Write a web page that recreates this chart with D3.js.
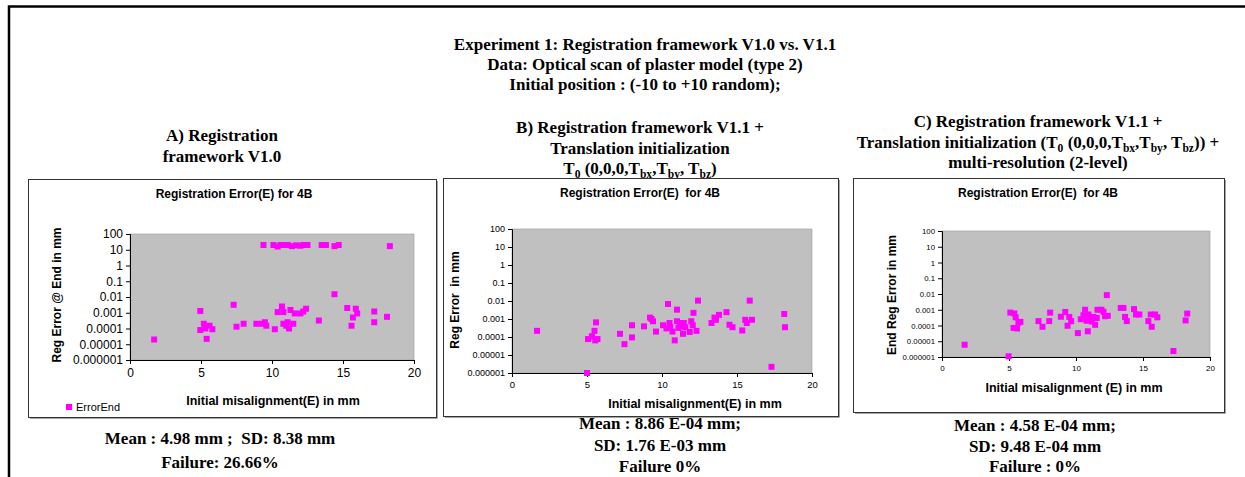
<!DOCTYPE html>
<html>
<head>
<meta charset="utf-8">
<script src="https://cdn.jsdelivr.net/npm/d3@7"></script>
<style>
    body { margin: 0; background: #fff; }
    text { white-space: pre; }
    .serif { font-family: "Liberation Serif", "Times New Roman", serif; font-weight: bold; }
    .sans { font-family: "Liberation Sans", Arial, sans-serif; }
</style>
</head>
<body>
<div id="chart"></div>
<script>
// Panel A: framework V1.0 (initial misalignment in mm, end error in mm)
const misalignA = [1.7, 4.95, 4.95, 5.2, 5.3, 5.4, 5.6, 5.8, 7.3, 7.5, 8.0, 8.9, 9.3, 9.5, 9.6,
    10.2, 10.4, 10.7, 10.8, 10.8, 11.0, 11.1, 11.2, 11.3, 11.5, 11.6, 12.0, 12.2, 12.4, 13.3,
    14.4, 15.3, 15.6, 15.7, 15.9, 16.0, 17.2, 17.2, 18.1,
    9.4, 10.1, 10.4, 10.6, 10.9, 11.1, 11.4, 12.0, 12.2, 12.5, 13.5, 13.8, 14.4, 14.7, 18.3, 11.7];
const errorA = [2e-5, 1.3e-3, 8e-5, 2e-4, 1e-4, 2.2e-5, 1.5e-4, 9e-5, 3.2e-3, 1.3e-4, 2e-4, 2e-4, 2e-4, 2.5e-4, 1.5e-4,
    9e-5, 1.1e-3, 2.5e-3, 1.1e-3, 2e-4, 1.5e-4, 2.5e-4, 1e-4, 1.5e-3, 2e-4, 9e-4, 9e-4, 1.2e-3, 1.8e-3, 3.2e-4,
    1.5e-2, 2e-3, 1.5e-4, 5e-4, 1.8e-3, 9e-4, 1.2e-3, 2.5e-4, 5.5e-4,
    20, 20, 16, 20, 20, 20, 17, 18, 20, 20, 20, 20, 17, 20, 17, 19];

// Panel B: V1.1 + translation initialization
const misalignB = [1.67, 5.0, 5.07, 5.33, 5.5, 5.55, 5.6, 5.7, 7.2, 7.5, 8.0, 8.0, 8.8, 9.2, 9.3, 9.4, 9.6,
    10.07, 10.3, 10.4, 10.5, 10.55, 10.7, 10.85, 11.0, 11.0, 11.1, 11.2, 11.35, 11.4, 11.45, 11.55,
    11.85, 11.95, 12.05, 12.1, 12.3, 12.4, 13.3, 13.5, 13.6, 13.8, 14.3, 14.5, 14.7,
    15.35, 15.55, 15.65, 15.85, 16.0, 17.3, 18.15, 18.2];
const errorB = [2.2e-4, 1e-6, 7.7e-5, 1.1e-4, 2.2e-4, 6.5e-5, 6.5e-4, 7.7e-5, 1.5e-4, 4e-5, 9.5e-5, 4.5e-4, 3.9e-4, 1.2e-3, 1e-3, 7.5e-4, 2e-4,
    4.5e-4, 3e-4, 6.8e-3, 6e-4, 3.5e-4, 2e-4, 6.5e-5, 3.3e-3, 7.5e-4, 3.2e-4, 6e-4, 4e-4, 1.5e-4, 6e-4, 3.5e-4,
    1.9e-4, 7.5e-4, 4.5e-4, 2.2e-3, 2.2e-4, 1.05e-2, 6e-4, 1.2e-3, 9e-4, 1.7e-3, 2.4e-3, 4.8e-4, 3.5e-4,
    2.3e-4, 9e-4, 6e-4, 1.05e-2, 9e-4, 2.2e-6, 1.9e-3, 3.5e-4];

// Panel C: V1.1 + translation initialization + multi-resolution
const misalignC = [1.69, 4.97, 5.1, 5.34, 5.4, 5.5, 5.6, 5.7, 5.85, 7.2, 7.5, 8.0, 8.07, 8.87, 9.2, 9.37, 9.5, 9.64,
    10.14, 10.36, 10.56, 10.68, 10.8, 10.88, 10.93, 11.06, 11.18, 11.3, 11.43, 11.55, 11.6, 11.9, 12.05, 12.17,
    12.3, 12.37, 13.34, 13.54, 13.66, 13.79, 14.33, 14.48, 14.73, 15.4, 15.58, 15.65, 15.9, 16.07, 17.27, 18.18, 18.3];
const errorC = [6e-6, 1.1e-6, 6.6e-4, 7e-5, 5.8e-4, 3.3e-4, 6.5e-5, 1.5e-4, 1.7e-4, 1.9e-4, 8.3e-5, 1.9e-4, 6.6e-4, 3.6e-4, 7.2e-4, 9.6e-5, 3.5e-4, 1.9e-4,
    3.3e-5, 2.5e-4, 4.5e-4, 1e-3, 2e-4, 4.3e-5, 5e-4, 3e-4, 1.8e-4, 3.5e-4, 1.1e-4, 3e-4, 1e-3, 1e-3, 7.4e-4, 3.9e-4,
    8.5e-3, 4.1e-4, 1.3e-3, 1.3e-3, 3.5e-4, 1.9e-4, 1.1e-3, 5e-4, 5e-4, 1.9e-4, 5e-4, 8.3e-5, 5e-4, 3.3e-4, 2.4e-6, 2.1e-4, 5.7e-4];

const yTicks = [1e-6, 1e-5, 1e-4, 1e-3, 1e-2, 1e-1, 1, 10, 100];
const yTickLabels = ["0.000001", "0.00001", "0.0001", "0.001", "0.01", "0.1", "1", "10", "100"];
const xTicks = [0, 5, 10, 15, 20];

const mainTitle = ["Experiment 1: Registration framework V1.0 vs. V1.1",
    "Data: Optical scan of plaster model (type 2)",
    "Initial position : (-10 to +10 random);"];
const statsA = ["Mean : 4.98 mm ;  SD: 8.38 mm", "Failure: 26.66%"];
const statsB = ["Mean : 8.86 E-04 mm;", "SD: 1.76 E-03 mm", "Failure 0%"];
const statsC = ["Mean : 4.58 E-04 mm;", "SD: 9.48 E-04 mm", "Failure : 0%"];

const width = 1245, height = 477;
const serifSize = 17;
const svg = d3.select("#chart").append("svg")
    .attr("width", width).attr("height", height);

// outer frame (top and left only)
svg.append("path")
    .attr("d", `M9,477 V6.5 H1245`)
    .attr("fill", "none").attr("stroke", "#000").attr("stroke-width", 2.5);

// block of centred serif lines
function serifLines(lines, cx, y0, step, size = serifSize) {
    lines.forEach((t, i) => {
        svg.append("text").attr("class", "serif")
            .attr("x", cx).attr("y", y0 + i * step)
            .attr("text-anchor", "middle").attr("font-size", size)
            .text(t);
    });
}

// text line with subscripts: parts = [[text, isSub, dy], ...]
function serifRich(parts, cx, y, size = serifSize) {
    const t = svg.append("text").attr("class", "serif")
        .attr("x", cx).attr("y", y)
        .attr("text-anchor", "middle").attr("font-size", size);
    parts.forEach(p => {
        const s = t.append("tspan").text(p[0]);
        if (p[1]) s.attr("font-size", size * 0.68).attr("dy", 3.5);
        else s.attr("dy", p[2] || 0);
    });
}

serifLines(mainTitle, 645, 50, 20);

serifLines(["A) Registration", "framework V1.0"], 222, 141, 21);
serifLines(["B) Registration framework V1.1 +", "Translation initialization"], 640, 133, 21);
serifRich([["T"], ["0", 1], [" (0,0,0,T", 0, -3.5], ["bx", 1], [",T", 0, -3.5], ["by", 1], [", T", 0, -3.5], ["bz", 1], [")", 0, -3.5]], 640, 174);
serifLines(["C) Registration framework V1.1 +"], 1038, 127, 21);
serifRich([["Translation initialization (T"], ["0", 1], [" (0,0,0,T", 0, -3.5], ["bx", 1], [",T", 0, -3.5], ["by", 1],
    [", T", 0, -3.5], ["bz", 1], [")) +", 0, -3.5]], 1038, 148);
serifLines(["multi-resolution (2-level)"], 1038, 168, 21);

serifLines(statsA, 220, 444, 24);
serifLines(statsB, 660, 429, 21.5);
serifLines(statsC, 1035, 431, 20.5);

const panels = [
    {xs: misalignA, ys: errorA, box: {x: 28, y: 179, w: 408, h: 238}, plot: {x: 130, y: 234, w: 284, h: 126},
     title: "Registration Error(E) for 4B", titleX: 234, titleY: 198,
     xTitle: "Initial misalignment(E) in mm", xTitleX: 273, xTitleY: 405,
     yTitle: "Reg Error @ End in mm", yTitleX: 57, yTitleY: 295, tickSize: 12, xTickSize: 12, legend: true},
    {xs: misalignB, ys: errorB, box: {x: 443, y: 178, w: 395, h: 238}, plot: {x: 512, y: 229, w: 300, h: 144},
     title: "Registration Error(E)  for 4B", titleX: 640, titleY: 197,
     xTitle: "Initial misalignment(E) in mm", xTitleX: 695, xTitleY: 408,
     yTitle: "Reg Error  in mm", yTitleX: 455, yTitleY: 300, tickSize: 9, xTickSize: 9.5},
    {xs: misalignC, ys: errorC, box: {x: 853, y: 178, w: 371, h: 234}, plot: {x: 942, y: 231, w: 268, h: 126},
     title: "Registration Error(E)  for 4B", titleX: 1038, titleY: 197,
     xTitle: "Initial misalignment (E) in mm", xTitleX: 1074, xTitleY: 392,
     yTitle: "End Reg Error in mm", yTitleX: 892, yTitleY: 295, tickSize: 7.8, xTickSize: 8}
];

panels.forEach(p => {
    const g = svg.append("g");
    const b = p.box, pl = p.plot;

    // chart frame with a little shadow
    g.append("path")
        .attr("d", `M${b.x + b.w + 1},${b.y + 2} V${b.y + b.h + 1} H${b.x + 2}`)
        .attr("fill", "none").attr("stroke", "#888").attr("stroke-width", 1.5);
    g.append("rect")
        .attr("x", b.x + 0.5).attr("y", b.y + 0.5).attr("width", b.w).attr("height", b.h)
        .attr("fill", "#fff").attr("stroke", "#333");

    var x = d3.scaleLinear().domain([0, 20]).range([pl.x, pl.x + pl.w]);
    var y = d3.scaleLog().domain([1e-6, 100]).range([pl.y + pl.h, pl.y]);

    g.append("rect")
        .attr("x", pl.x).attr("y", pl.y).attr("width", pl.w).attr("height", pl.h)
        .attr("fill", "#c0c0c0").attr("stroke", "#9a9a9a").attr("stroke-width", 0.6);

    g.append("g")
        .attr("transform", `translate(0,${pl.y + pl.h})`)
        .call(d3.axisBottom(x).tickValues(xTicks).tickSize(4).tickPadding(4))
        .call(a => a.select(".domain").attr("stroke", "#000"))
        .selectAll("text").attr("class", "sans").attr("font-size", p.xTickSize).attr("fill", "#000");

    g.append("g")
        .attr("transform", `translate(${pl.x},0)`)
        .call(d3.axisLeft(y).tickValues(yTicks).tickFormat((d, i) => yTickLabels[i]).tickSize(4).tickPadding(3))
        .call(a => a.select(".domain").attr("stroke", "#000"))
        .selectAll("text").attr("class", "sans").attr("font-size", p.tickSize).attr("fill", "#000");

    g.selectAll(".pt")
        .data(p.xs.map((v, i) => ({x: v, y: p.ys[i]})))
        .enter().append("rect")
        .attr("x", d => x(d.x) - 3).attr("y", d => y(d.y) - 3)
        .attr("width", 6).attr("height", 6)
        .attr("fill", "#ff00ff");

    g.append("text").attr("class", "sans")
        .attr("x", p.titleX).attr("y", p.titleY)
        .attr("text-anchor", "middle").attr("font-size", 12).attr("font-weight", "bold")
        .text(p.title);
    g.append("text").attr("class", "sans")
        .attr("x", p.xTitleX).attr("y", p.xTitleY)
        .attr("text-anchor", "middle").attr("font-size", 12.5).attr("font-weight", "bold")
        .text(p.xTitle);
    g.append("text").attr("class", "sans")
        .attr("transform", `translate(${p.yTitleX + 4},${p.yTitleY}) rotate(-90)`)
        .attr("text-anchor", "middle").attr("font-size", 12).attr("font-weight", "bold")
        .text(p.yTitle);

    if (p.legend) {
        g.append("rect").attr("x", 66).attr("y", 404).attr("width", 6).attr("height", 6).attr("fill", "#ff00ff");
        g.append("text").attr("class", "sans")
            .attr("x", 76).attr("y", 411).attr("font-size", 11)
            .text("ErrorEnd");
    }
});
</script>
</body>
</html>
